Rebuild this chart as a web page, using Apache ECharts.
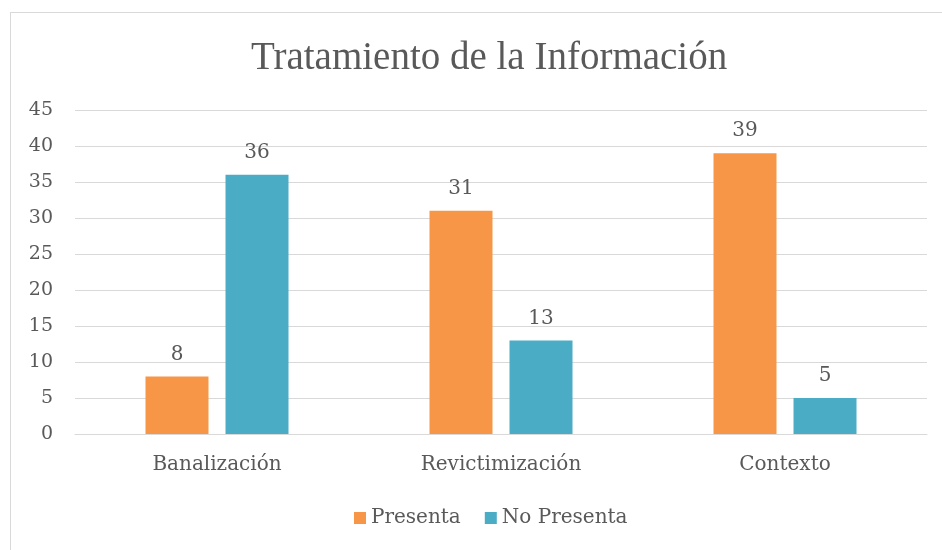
<!DOCTYPE html>
<html>
<head>
<meta charset="utf-8">
<style>
  html, body { margin: 0; padding: 0; background: #fff; }
  #frame { position: absolute; left: 10px; top: 12px; width: 940px; height: 545px; border: 1px solid #d9d9d9; box-sizing: border-box; }
  #chart { position: absolute; left: 0; top: 0; width: 942px; height: 550px; }
</style>
<script src="https://cdn.jsdelivr.net/npm/echarts@6/dist/echarts.min.js"></script>
</head>
<body>
<div id="frame"></div>
<div id="chart"></div>
<script>
const categories = ["Banalización", "Revictimización", "Contexto"];
const presenta = [8, 31, 39];
const noPresenta = [36, 13, 5];

const font = "'DejaVu Serif', 'Liberation Serif', serif";
const textColor = "#595959";

const chart = echarts.init(document.getElementById("chart"));
chart.setOption({
  animation: false,
  title: {
    text: "Tratamiento de la Información",
    left: 246,
    top: 34,
    textStyle: { fontFamily: "'Liberation Serif', serif", fontSize: 39, fontWeight: "normal", color: textColor },
  },
  legend: {
    bottom: 17,
    left: 349,
    itemWidth: 12,
    itemHeight: 12,
    itemGap: 24,
    icon: "rect",
    textStyle: { fontFamily: font, fontSize: 20, color: textColor },
    data: ["Presenta", "No Presenta"],
  },
  grid: { left: 75, right: 15, top: 110, bottom: 116 },
  xAxis: {
    type: "category",
    data: categories,
    axisLine: { lineStyle: { color: "#d9d9d9" } },
    axisTick: { show: false },
    axisLabel: { fontFamily: font, fontSize: 20, color: textColor, margin: 21 },
  },
  yAxis: {
    type: "value",
    min: 0,
    max: 45,
    interval: 5,
    axisLine: { show: false },
    axisTick: { show: false },
    axisLabel: { fontFamily: font, fontSize: 19, color: textColor, margin: 22 },
    splitLine: { lineStyle: { color: "#d9d9d9" } },
  },
  series: [
    {
      name: "Presenta",
      type: "bar",
      data: presenta,
      barWidth: 63,
      barGap: "27%",
      itemStyle: { color: "#F79646" },
      label: { show: true, position: "top", distance: 12, fontFamily: font, fontSize: 20, color: textColor },
    },
    {
      name: "No Presenta",
      type: "bar",
      data: noPresenta,
      barWidth: 63,
      itemStyle: { color: "#4BACC6" },
      label: { show: true, position: "top", distance: 12, fontFamily: font, fontSize: 20, color: textColor },
    },
  ],
});
</script>
</body>
</html>
